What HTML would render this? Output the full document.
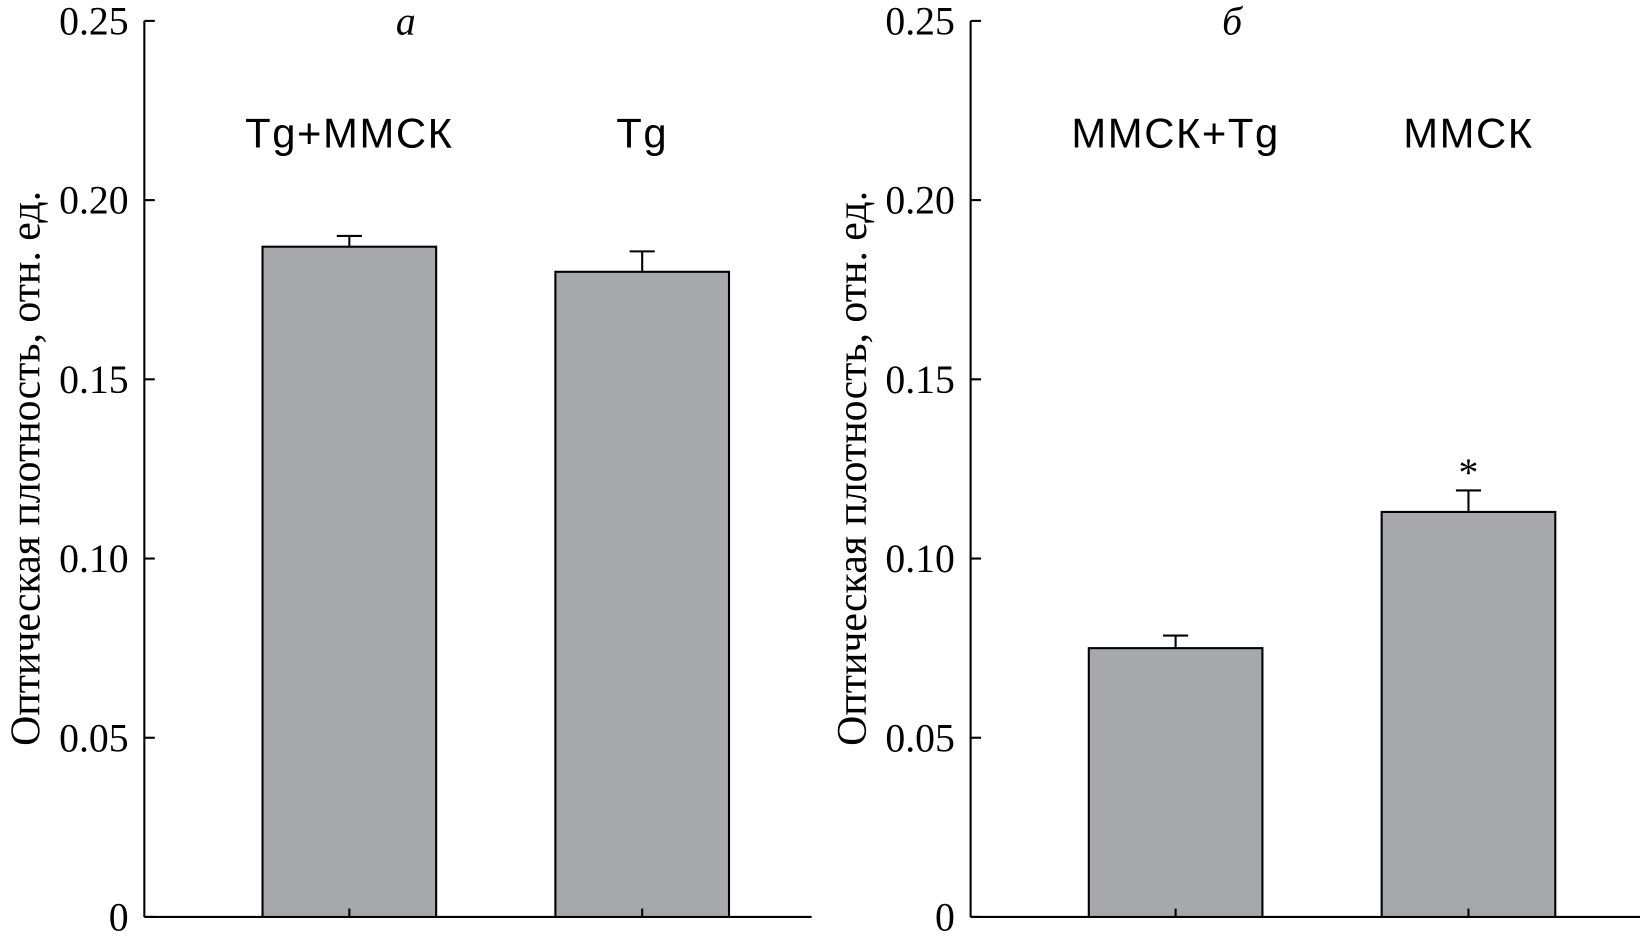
<!DOCTYPE html>
<html><head><meta charset="utf-8"><style>
html,body{margin:0;padding:0;background:#fff;}
svg{display:block;font-family:"Liberation Serif",serif;}
</style></head><body>
<svg id="chart" width="1640" height="941" viewBox="0 0 1568 900" preserveAspectRatio="none"></svg>
<script>
const panelTitles = ["а", "б"];
const categoriesA = ["Tg+ММСК", "Tg"];
const valuesA = [0.187, 0.180];
const errorsA = [0.003, 0.0057];
const categoriesB = ["ММСК+Tg", "ММСК"];
const valuesB = [0.075, 0.113];
const errorsB = [0.0035, 0.006];
const starsB = [false, true];
const yTicks = [0, 0.05, 0.10, 0.15, 0.20, 0.25];
const yTickLabels = ["0", "0.05", "0.10", "0.15", "0.20", "0.25"];
const yLabel = "Оптическая плотность, отн. ед.";

const NS = "http://www.w3.org/2000/svg";
const svg = document.getElementById("chart");
function mk(tag, attrs, parent) {
  const e = document.createElementNS(NS, tag);
  for (const k in attrs) e.setAttribute(k, attrs[k]);
  (parent || svg).appendChild(e);
  return e;
}
const y0 = 877, yTop = 20, yMax = 0.25;
function yScale(v) { return y0 - (v / yMax) * (y0 - yTop); }

function drawPanel(ox, xEnd, title, cats, vals, errs, stars, idx) {
  const g = mk("g", {});
  
  
  const ax = mk("line", {x1: ox, y1: yTop, x2: ox, y2: y0, stroke: "#000", "stroke-width": 2}, g);
  
  
  const xa = mk("line", {x1: ox, y1: y0, x2: xEnd, y2: y0, stroke: "#000", "stroke-width": 2}, g);
  
  
  yTicks.forEach((t, i) => {
    const y = yScale(t);
    const tk = mk("line", {x1: ox, y1: y, x2: ox + 10, y2: y, stroke: "#000", "stroke-width": 2}, g);
    
    
    const tl = mk("text", {x: ox - 15, y: y + 13, "text-anchor": "end", "font-size": 38}, g);
    tl.textContent = yTickLabels[i];
    
    
  });
  const yl = mk("text", {x: 0, y: 0, transform: `translate(${ox - 100},448) rotate(-90)`, "text-anchor": "middle", "font-size": 40}, g);
  yl.textContent = yLabel;
  
  
  const tt = mk("text", {x: ox + 250, y: 33, "text-anchor": "middle", "font-size": 38, "font-style": "italic"}, g);
  tt.textContent = title;
  
  
  const bw = 166, step = 280, first = ox + 113;
  cats.forEach((c, i) => {
    const x = first + i * step, cx = x + bw / 2, y = yScale(vals[i]);
    const ye = yScale(vals[i] + errs[i]);
    const eb = mk("line", {x1: cx, y1: y, x2: cx, y2: ye, stroke: "#000", "stroke-width": 2}, g);
    
    
    const cap = mk("line", {x1: cx - 12, y1: ye, x2: cx + 12, y2: ye, stroke: "#000", "stroke-width": 2}, g);
    
    
    const r = mk("rect", {x: x, y: y, width: bw, height: y0 - y, fill: "#a7a8ab", stroke: "#000", "stroke-width": 2}, g);
    
    
    const xt = mk("line", {x1: cx, y1: y0, x2: cx, y2: y0 - 8, stroke: "#000", "stroke-width": 2}, g);
    
    
    const lb = mk("text", {x: cx, y: 141, "text-anchor": "middle", "font-size": 40, "letter-spacing": 1.5, "font-family": "Liberation Sans, sans-serif"}, g);
    lb.textContent = c;
    
    
    if (stars && stars[i]) {
      const s = mk("text", {x: cx, y: ye - 4, "text-anchor": "middle", "font-size": 38}, g);
      s.textContent = "*";
      
      
    }
  });
}
drawPanel(138, 776, panelTitles[0], categoriesA, valuesA, errorsA, null, "a");
drawPanel(928, 1568, panelTitles[1], categoriesB, valuesB, errorsB, starsB, "b");
</script>
</body></html>
